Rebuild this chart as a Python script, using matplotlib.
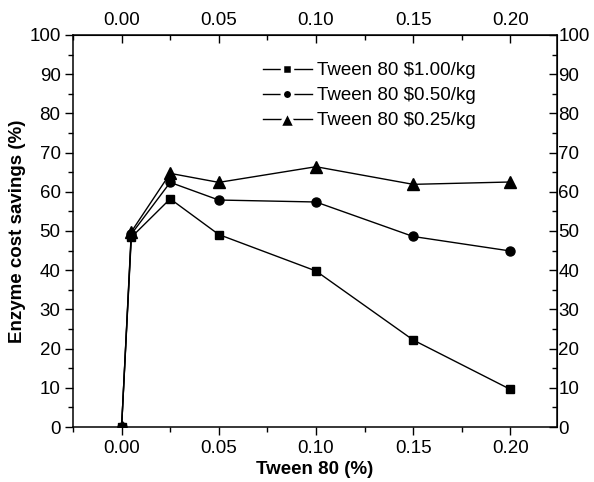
import matplotlib
matplotlib.use("Agg")
import matplotlib.pyplot as plt
from matplotlib.lines import Line2D
from matplotlib.ticker import MultipleLocator

plt.rcParams["font.family"] = ["Liberation Sans", "DejaVu Sans"]

tween = [0.0, 0.005, 0.025, 0.05, 0.10, 0.15, 0.20]
save_100 = [0.0, 48.4, 58.2, 49.1, 39.8, 22.2, 9.6]
save_050 = [0.0, 49.2, 62.4, 57.9, 57.4, 48.6, 44.9]
save_025 = [0.0, 49.8, 64.7, 62.4, 66.4, 61.9, 62.5]
labels = ["Tween 80 \\$1.00/kg", "Tween 80 \\$0.50/kg", "Tween 80 \\$0.25/kg"]
markers = ["s", "o", "^"]
FS = 13.5

fig = plt.figure(figsize=(5.94, 4.82), dpi=100)
ax = fig.add_axes([0.1229, 0.1141, 0.8148, 0.8133])

ax.plot(tween, save_100, "-s", color="black", lw=1, ms=6)
ax.plot(tween, save_050, "-o", color="black", lw=1, ms=6.5)
ax.plot(tween, save_025, "-^", color="black", lw=1, ms=8)

ax.set_xlim(-0.025, 0.224)
ax.set_ylim(0, 100)
ax.xaxis.set_major_locator(MultipleLocator(0.05))
ax.xaxis.set_minor_locator(MultipleLocator(0.025))
ax.yaxis.set_major_locator(MultipleLocator(10))
ax.yaxis.set_minor_locator(MultipleLocator(5))
ax.xaxis.set_major_formatter(plt.FormatStrFormatter("%.2f"))
ax.tick_params(which="major", direction="out", length=6, width=1, labelsize=FS, pad=3)
ax.tick_params(which="minor", direction="out", length=3.5, width=1)
for s in ax.spines.values():
    s.set_linewidth(1.1)

top = ax.secondary_xaxis("top")
top.xaxis.set_major_locator(MultipleLocator(0.05))
top.xaxis.set_minor_locator(MultipleLocator(0.025))
top.xaxis.set_major_formatter(plt.FormatStrFormatter("%.2f"))
top.tick_params(which="major", direction="in", length=6, width=1, labelsize=FS, pad=4)
top.tick_params(which="minor", direction="in", length=3.5, width=1)

right = ax.secondary_yaxis("right")
right.yaxis.set_major_locator(MultipleLocator(10))
right.yaxis.set_minor_locator(MultipleLocator(5))
right.tick_params(which="major", direction="in", length=6, width=1, labelsize=FS, pad=1)
right.tick_params(which="minor", direction="in", length=3.5, width=1)

ax.set_xlabel("Tween 80 (%)", fontsize=FS, fontweight="bold", labelpad=3)
ax.set_ylabel("Enzyme cost savings (%)", fontsize=FS, fontweight="bold", labelpad=2)

# legend handles with a small gap around the marker
handles = [Line2D([], [], color="black", lw=1, marker=m, ms=ms, mfc="black",
                  mec="white", mew=2.5)
           for m, ms in zip(markers, [7, 7.5, 11])]
ax.legend(handles, labels, loc="upper left", bbox_to_anchor=(0.377, 0.95),
          frameon=False, fontsize=FS, handlelength=2.6, handletextpad=0.3,
          labelspacing=0.42, borderaxespad=0)

fig.savefig("out.png", dpi=100)
